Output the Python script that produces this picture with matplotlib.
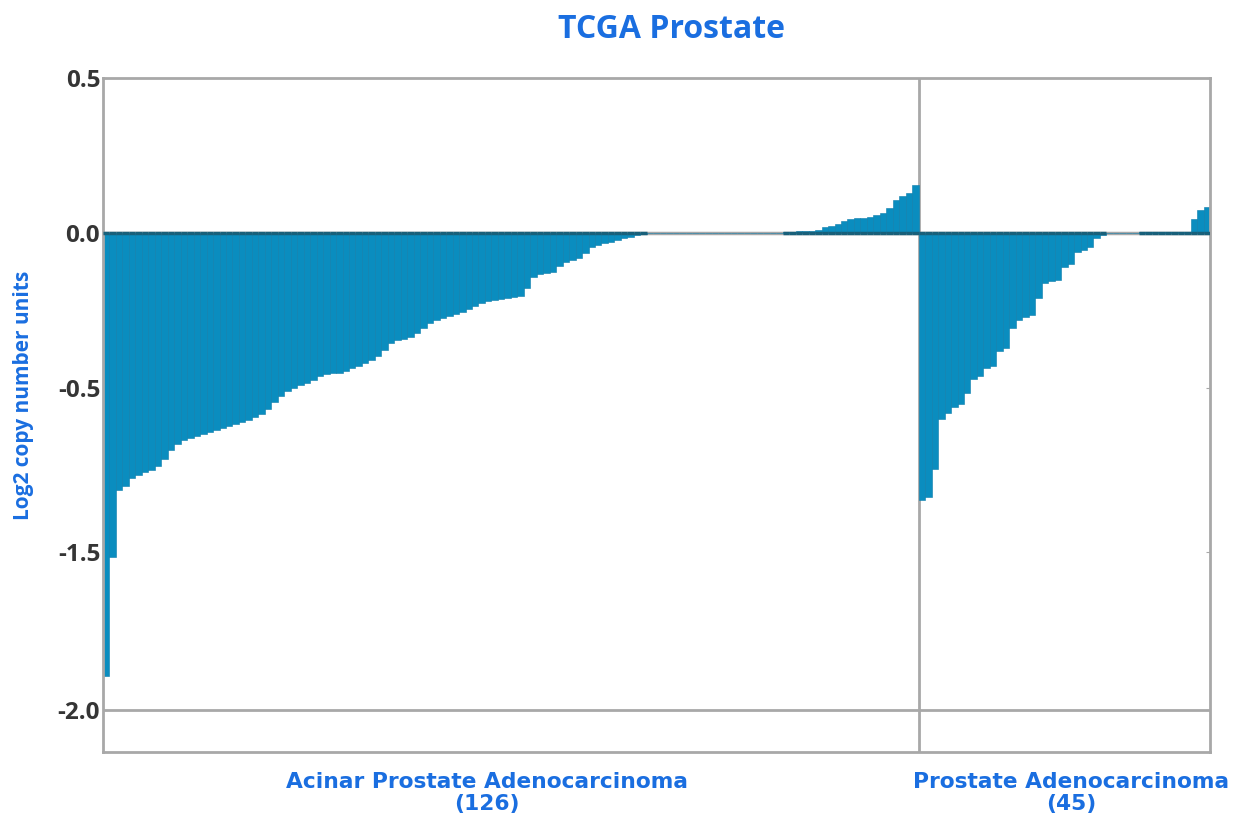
import matplotlib
matplotlib.use("Agg")
import matplotlib.pyplot as plt
import numpy as np
from matplotlib import font_manager

title = "TCGA Prostate"
ylabel = "Log2 copy number units"
group_names = ["Acinar Prostate Adenocarcinoma\n(126)", "Prostate Adenocarcinoma\n(45)"]
ytick_pos = [0.5, 0.0, -0.5, -1.03, -1.54]
ytick_labels = ["0.5", "0.0", "-0.5", "-1.5", "-2.0"]

acinar = [
    -1.43, -1.045, -0.83, -0.816, -0.79, -0.78, -0.77, -0.765, -0.75, -0.73,
    -0.70, -0.68, -0.668, -0.66, -0.655, -0.648, -0.642, -0.635, -0.63, -0.623,
    -0.616, -0.61, -0.603, -0.594, -0.584, -0.568, -0.545, -0.526, -0.51, -0.50,
    -0.49, -0.484, -0.474, -0.461, -0.455, -0.452, -0.452, -0.445, -0.435, -0.429,
    -0.419, -0.41, -0.397, -0.377, -0.355, -0.345, -0.342, -0.335, -0.323, -0.306,
    -0.29, -0.28, -0.274, -0.268, -0.261, -0.255, -0.245, -0.235, -0.226, -0.219,
    -0.216, -0.213, -0.21, -0.206, -0.203, -0.177, -0.142, -0.132, -0.129, -0.126,
    -0.106, -0.094, -0.087, -0.081, -0.065, -0.045, -0.039, -0.032, -0.029, -0.023,
    -0.016, -0.013, -0.006, -0.003,
    0, 0, 0, 0, 0, 0, 0, 0, 0, 0, 0, 0, 0, 0, 0, 0, 0, 0, 0, 0, 0,
    0.003, 0.004, 0.005, 0.006, 0.008, 0.01, 0.018, 0.024, 0.03, 0.04,
    0.045, 0.048, 0.05, 0.053, 0.057, 0.063, 0.08, 0.105, 0.118, 0.13, 0.155,
]
prostate = [
    -0.86, -0.85, -0.76, -0.60, -0.58, -0.56, -0.55, -0.515, -0.47, -0.46,
    -0.435, -0.43, -0.38, -0.37, -0.305, -0.28, -0.27, -0.265, -0.21, -0.16,
    -0.155, -0.15, -0.11, -0.10, -0.06, -0.055, -0.045, -0.015, -0.008,
    0, 0, 0, 0, 0,
    0.003, 0.003, 0.003, 0.003, 0.003, 0.003, 0.003, 0.003,
    0.045, 0.075, 0.085,
]

names = {f.name for f in font_manager.fontManager.ttflist}
main_font = "Open Sans" if "Open Sans" in names else "DejaVu Sans"

blue = "#1a6ee0"
bar_col = "#0a8dbf"
grid_col = "#a8a8a8"

fig = plt.figure(figsize=(12.45, 8.31), dpi=100)
ax = fig.add_axes([103/1245, 1-752/831, (1210-103)/1245, (752-78)/831])

vals = np.array(acinar + prostate)
n1 = len(acinar)
x = np.arange(len(vals)) + 0.5
ymin = -1.674
ax.set_xlim(0, len(vals))
ax.set_ylim(ymin, 0.5)

ax.axhline(0, color=grid_col, lw=2.5, zorder=1)
ax.axhline(ytick_pos[-1], color=grid_col, lw=2, zorder=1)
ax.axvline(n1, color=grid_col, lw=2, zorder=1)

ax.bar(x, vals, width=1.0, color=bar_col, edgecolor="#0a7cab", linewidth=0.4, zorder=2)
nz = vals != 0
ax.hlines(np.zeros(int(nz.sum())), x[nz]-0.5, x[nz]+0.5, color="#19607a", lw=2.5, zorder=3)

for s in ax.spines.values():
    s.set_color(grid_col)
    s.set_linewidth(2)

ax.set_yticks(ytick_pos)
ax.set_yticklabels(ytick_labels, fontsize=17.5, color="#353535", fontweight="bold", family=main_font)
ax.tick_params(axis="y", length=3, color=grid_col, pad=2)
ax.set_xticks([])
ax.tick_params(axis="y", which="both", right=True, direction="in")

fig.text(671/1245, 1-30/831, title, ha="center", va="center", fontsize=23,
         fontweight="bold", color=blue, family=main_font)
fig.text(24/1245, 1-395/831, ylabel, ha="center", va="center", rotation=90, fontsize=15,
         fontweight="bold", color=blue, family=main_font)

centers = [487/1245, 1071/1245]
for c, name in zip(centers, group_names):
    fig.text(c, 1-793/831, name, ha="center", va="center", fontsize=15.7,
             fontweight="bold", color=blue, family="DejaVu Sans", linespacing=1.1)

fig.savefig("out.png", dpi=100)
